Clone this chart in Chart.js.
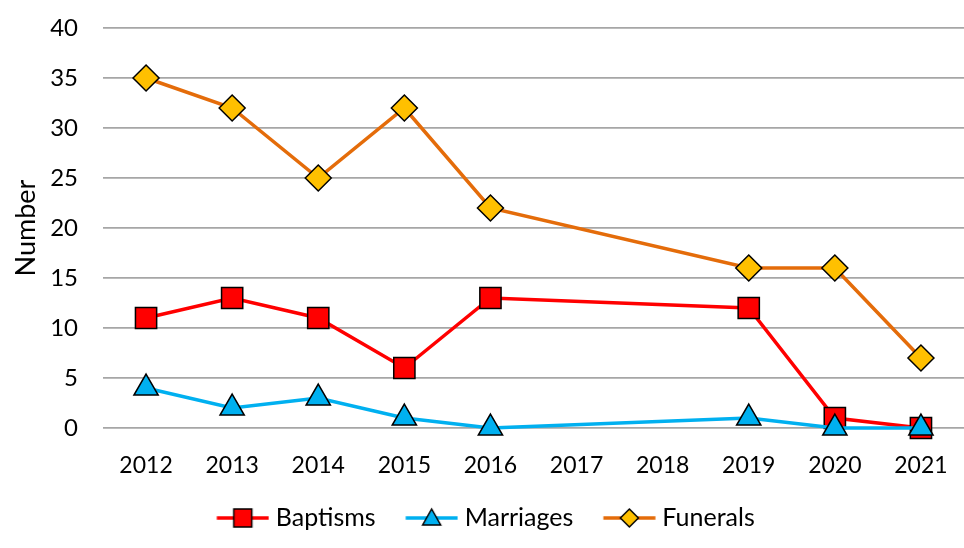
<!DOCTYPE html>
<html>
<head>
<meta charset="utf-8">
<script src="https://cdn.jsdelivr.net/npm/chart.js@4"></script>
<style>
  html, body { margin: 0; padding: 0; background: #fff; }
  #wrap { width: 964px; height: 548px; }
</style>
</head>
<body>
<div id="wrap"><canvas id="RegisterChart" width="964" height="548"></canvas></div>
<script>
const years = ['2012', '2013', '2014', '2015', '2016', '2017', '2018', '2019', '2020', '2021'];
const baptisms = [11, 13, 11, 6, 13, null, null, 12, 1, 0];
const marriages = [4, 2, 3, 1, 0, null, null, 1, 0, 0];
const funerals = [35, 32, 25, 32, 22, null, null, 16, 16, 7];
const yTicks = [0, 5, 10, 15, 20, 25, 30, 35, 40];

const fontName = 'Lato, "Open Sans", sans-serif';

// legend picture: a piece of line with the marker on it
// (drawn a bit right of centre so the gaps around it look like the original)
function legendIcon(lineColor, fill, style) {
  const c = document.createElement('canvas');
  c.width = 60; c.height = 30;
  const g = c.getContext('2d');
  const cx = 33.5, cy = 15;
  g.strokeStyle = lineColor;
  g.lineWidth = 3.5;
  g.beginPath();
  g.moveTo(cx - 26, cy); g.lineTo(cx + 26, cy);
  g.stroke();
  g.fillStyle = fill;
  g.strokeStyle = '#000';
  g.lineWidth = 1.5;
  g.beginPath();
  if (style === 'rect') {
    g.rect(cx - 9, cy - 9, 18, 18);
  } else if (style === 'triangle') {
    g.moveTo(cx, cy - 9);
    g.lineTo(cx + 9, cy + 7);
    g.lineTo(cx - 9, cy + 7);
    g.closePath();
  } else {
    g.moveTo(cx, cy - 9);
    g.lineTo(cx + 9, cy);
    g.lineTo(cx, cy + 9);
    g.lineTo(cx - 9, cy);
    g.closePath();
  }
  g.fill(); g.stroke();
  return c;
}

const icons = [
  legendIcon('#FF0000', '#FF0000', 'rect'),
  legendIcon('#00B0F0', '#00B0F0', 'triangle'),
  legendIcon('#E46C0A', '#FFC000', 'rectRot')
];

const ctx = document.getElementById('RegisterChart');
new Chart(ctx, {
  type: 'line',
  data: {
    labels: years,
    datasets: [{
      label: 'Baptisms',
      data: baptisms,
      borderColor: '#FF0000',
      borderWidth: 3.5,
      backgroundColor: '#FF0000',
      pointStyle: 'rect',
      pointRadius: 15,
      pointBorderColor: '#000',
      pointBorderWidth: 1.5,
      spanGaps: true,
      clip: false,
      order: 1
    }, {
      label: 'Marriages',
      data: marriages,
      borderColor: '#00B0F0',
      borderWidth: 3.5,
      backgroundColor: '#00B0F0',
      pointStyle: 'triangle',
      pointRadius: 14,
      pointBorderColor: '#000',
      pointBorderWidth: 1.5,
      spanGaps: true,
      clip: false,
      order: 0
    }, {
      label: 'Funerals',
      data: funerals,
      borderColor: '#E46C0A',
      borderWidth: 3.5,
      backgroundColor: '#FFC000',
      pointStyle: 'rectRot',
      pointRadius: 13,
      pointBorderColor: '#000',
      pointBorderWidth: 1.5,
      spanGaps: true,
      clip: false,
      order: 2
    }]
  },
  options: {
    responsive: false,
    animation: false,
    layout: { autoPadding: false, padding: { top: 28, right: 0, left: 6, bottom: 7.5 } },
    plugins: {
      legend: {
        position: 'bottom',
        labels: {
          usePointStyle: true,
          pointStyleWidth: 48,
          boxHeight: 25,
          padding: 28.5,
          color: '#000',
          font: { family: fontName, size: 25 },
          generateLabels: function(chart) {
            return chart.data.datasets.map((ds, i) => ({
              text: ds.label,
              pointStyle: icons[i],
              fillStyle: 'transparent',
              strokeStyle: 'transparent',
              lineWidth: 0,
              fontColor: '#000',
              datasetIndex: i
            }));
          }
        }
      },
      tooltip: { enabled: false }
    },
    scales: {
      x: {
        offset: true,
        grid: { display: false },
        border: { display: false },
        ticks: { color: '#000', font: { family: fontName, size: 23 }, padding: 16 },
        afterFit: s => { s.height = 49; s.paddingLeft = 0; s.paddingRight = 0; }
      },
      y: {
        min: 0,
        max: 40,
        afterBuildTicks: axis => { axis.ticks = yTicks.map(v => ({ value: v })); },
        afterFit: s => { s.width = 97; s.paddingTop = 0; s.paddingBottom = 0; },
        grid: { color: '#A6A6A6', lineWidth: 1.7, drawTicks: false },
        border: { display: false },
        ticks: { color: '#000', font: { family: fontName, size: 24 }, padding: 25 },
        title: { display: true, text: 'Number', color: '#000', font: { family: fontName, size: 27 }, padding: { top: 4, bottom: 4 } }
      }
    }
  }
});
</script>
</body>
</html>
